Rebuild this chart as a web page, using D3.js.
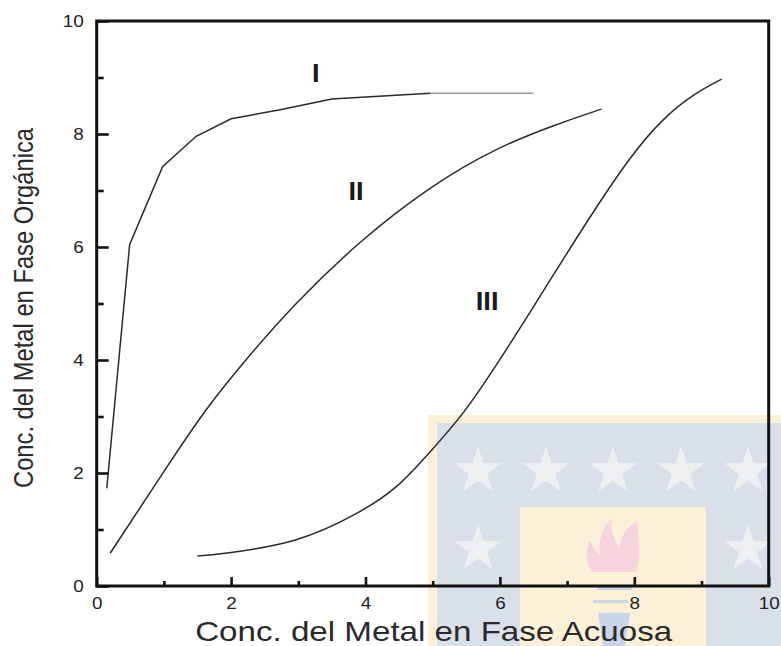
<!DOCTYPE html>
<html>
<head>
<meta charset="utf-8">
<script src="https://cdn.jsdelivr.net/npm/d3@7"></script>
<style>
body { margin: 0; background: #fff; }
svg { display: block; font-family: 'Liberation Sans', Arial, sans-serif; }
</style>
</head>
<body>
<svg></svg>
<script>
// isotherm curves
let curveIx = [0.15, 0.49, 0.98, 1.48, 2.0, 2.73, 3.5, 4.96, 6.5]
let curveIy = [1.73, 6.04, 7.42, 7.96, 8.27, 8.43, 8.62, 8.72, 8.72]

let curveIIx = [0.2, 0.98, 1.63, 2.27, 2.97, 3.91, 4.95, 5.94, 6.83, 7.51]
let curveIIy = [0.58, 1.99, 3.12, 4.07, 5.0, 6.07, 7.03, 7.72, 8.16, 8.44]

let curveIIIx = [1.5, 1.97, 2.97, 3.86, 4.45, 4.95, 5.45, 5.94, 6.44, 6.93, 7.43, 7.94, 8.43, 8.9, 9.3]
let curveIIIy = [0.53, 0.59, 0.82, 1.28, 1.75, 2.36, 3.06, 3.9, 4.83, 5.76, 6.69, 7.57, 8.25, 8.7, 8.97]

let labelNames = ['I', 'II', 'III']
let labelX = [3.26, 3.86, 5.81]
let labelY = [8.92, 6.83, 4.88]

let majorTicks = [0, 2, 4, 6, 8, 10]
let minorTicks = [1, 3, 5, 7, 9]

let xTitle = 'Conc. del Metal en Fase Acuosa'
let yTitle = 'Conc. del Metal en Fase Orgánica'

let width = 781
let height = 646
let plotLeft = 96.7
let plotRight = 768.7
let plotTop = 21
let plotBottom = 586

let svg = d3.select('svg')
  .attr('width', width)
  .attr('height', height)

let xScale = d3.scaleLinear().domain([0, 10]).range([plotLeft, plotRight])
let yScale = d3.scaleLinear().domain([0, 10]).range([plotBottom, plotTop])

// university watermark behind the chart
let drawWatermark = () => {
  let wm = svg.append('g')
  wm.append('rect').attr('x', 428).attr('y', 415).attr('width', 353).attr('height', 231).attr('fill', '#fdf0d9')
  wm.append('rect').attr('x', 437).attr('y', 423).attr('width', 344).attr('height', 223).attr('fill', '#d9e0ea')
  wm.append('rect').attr('x', 520).attr('y', 507).attr('width', 186).attr('height', 139).attr('fill', '#fdf0d9')

  let star = d3.symbol().type(d3.symbolStar).size(700)
  let stars = [[478, 471], [546, 471], [613, 471], [681, 471], [748, 471], [478, 549], [748, 549]]
  wm.selectAll('path.star')
    .data(stars)
    .enter()
    .append('path')
    .attr('class', 'star')
    .attr('d', star)
    .attr('transform', (d) => 'translate(' + d[0] + ',' + d[1] + ')')
    .attr('fill', '#eeeff1')

  wm.append('path')
    .attr('d', 'M592 572 C585 562 585 550 590 540 C593 548 596 552 600 556 C598 540 602 528 612 518 C610 532 614 540 620 548 C620 536 628 526 638 520 C636 534 643 552 636 572 Z')
    .attr('fill', '#f6d3dd')

  wm.append('rect').attr('x', 597).attr('y', 587).attr('width', 35).attr('height', 3).attr('fill', '#c9d5e8')
  wm.append('rect').attr('x', 593).attr('y', 600).attr('width', 35).attr('height', 3).attr('fill', '#c9d5e8')
  wm.append('path').attr('d', 'M598 613 L630 613 L625 646 L603 646 Z').attr('fill', '#c9d5e8')
}

let drawAxis = () => {
  let fmtLen = (d) => String(d).length * 10.5

  let xMajor = svg.append('g')
    .attr('transform', 'translate(0,' + plotBottom + ')')
    .call(d3.axisBottom(xScale).tickValues(majorTicks).tickSizeInner(-9).tickSizeOuter(0).tickPadding(12))
  let xMinor = svg.append('g')
    .attr('transform', 'translate(0,' + plotBottom + ')')
    .call(d3.axisBottom(xScale).tickValues(minorTicks).tickSizeInner(-5).tickSizeOuter(0).tickFormat(''))

  let yMajor = svg.append('g')
    .attr('transform', 'translate(' + plotLeft + ',0)')
    .call(d3.axisLeft(yScale).tickValues(majorTicks).tickSizeInner(-12).tickSizeOuter(0).tickPadding(13))
  let yMinor = svg.append('g')
    .attr('transform', 'translate(' + plotLeft + ',0)')
    .call(d3.axisLeft(yScale).tickValues(minorTicks).tickSizeInner(-7).tickSizeOuter(0).tickFormat(''))

  ;[xMajor, xMinor, yMajor, yMinor].forEach((g) => {
    g.select('.domain').remove()
    g.selectAll('line').attr('stroke', '#111').attr('stroke-width', 2.6)
    g.selectAll('text')
      .style('font-size', '16px')
      .attr('fill', '#222')
      .attr('textLength', fmtLen)
      .attr('lengthAdjust', 'spacingAndGlyphs')
  })

  svg.append('rect')
    .attr('x', plotLeft)
    .attr('y', plotTop)
    .attr('width', plotRight - plotLeft)
    .attr('height', plotBottom - plotTop)
    .attr('fill', 'none')
    .attr('stroke', '#111')
    .attr('stroke-width', 3)

  svg.append('text')
    .attr('x', (plotLeft + plotRight) / 2 + 1)
    .attr('y', 640.5)
    .attr('text-anchor', 'middle')
    .style('font-size', '28px')
    .attr('fill', '#2a2a2a')
    .attr('textLength', 477)
    .attr('lengthAdjust', 'spacingAndGlyphs')
    .text(xTitle)

  svg.append('text')
    .attr('transform', 'translate(33.3,308) scale(1.17,1) rotate(-90)')
    .attr('text-anchor', 'middle')
    .style('font-size', '24px')
    .attr('fill', '#2a2a2a')
    .attr('textLength', 360)
    .attr('lengthAdjust', 'spacingAndGlyphs')
    .text(yTitle)
}

let drawCurves = () => {
  let straight = d3.line().x((d) => xScale(d[0])).y((d) => yScale(d[1]))
  let smooth = d3.line().x((d) => xScale(d[0])).y((d) => yScale(d[1])).curve(d3.curveNatural)

  let ptsI = d3.zip(curveIx, curveIy)
  let ptsII = d3.zip(curveIIx, curveIIy)
  let ptsIII = d3.zip(curveIIIx, curveIIIy)

  svg.append('path')
    .attr('d', straight(ptsI.slice(0, ptsI.length - 1)))
    .attr('fill', 'none')
    .attr('stroke', '#2a2a2a')
    .attr('stroke-width', 1.5)
  svg.append('path')
    .attr('d', straight(ptsI.slice(ptsI.length - 2)))
    .attr('fill', 'none')
    .attr('stroke', '#9a9a9a')
    .attr('stroke-width', 1.5)

  ;[ptsII, ptsIII].forEach((pts) => {
    svg.append('path')
      .attr('d', smooth(pts))
      .attr('fill', 'none')
      .attr('stroke', '#2a2a2a')
      .attr('stroke-width', 1.5)
  })

  svg.selectAll('text.curve-label')
    .data(labelNames)
    .enter()
    .append('text')
    .attr('class', 'curve-label')
    .attr('x', (d, i) => xScale(labelX[i]))
    .attr('y', (d, i) => yScale(labelY[i]))
    .attr('text-anchor', 'middle')
    .style('font-size', '25px')
    .style('font-weight', 'bold')
    .attr('fill', '#1a1a1a')
    .attr('textLength', (d) => d.length * 7.6)
    .attr('lengthAdjust', 'spacingAndGlyphs')
    .text((d) => d)
}

drawWatermark()
drawAxis()
drawCurves()
</script>
</body>
</html>
